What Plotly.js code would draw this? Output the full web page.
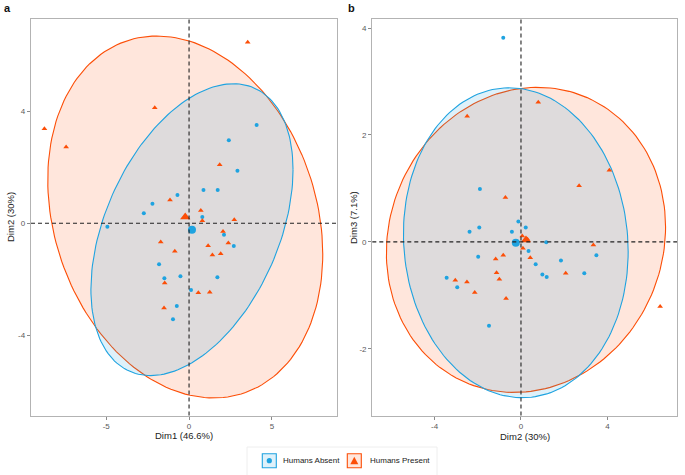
<!DOCTYPE html>
<html>
<head>
<meta charset="utf-8">
<script src="https://cdn.plot.ly/plotly-3.0.1.min.js"></script>
<style>html,body{margin:0;padding:0;background:#fff;}#chart{width:685px;height:475px;}</style>
</head>
<body>
<div id="chart"></div>
<script>
// ---------- DATA ----------
const groups = ["Humans Absent", "Humans Present"];

// Panel a: Dim1 vs Dim2
const absentDim1 = [4.08, 2.40, 2.92, 0.87, 1.73, -0.70, -2.21, -2.73, 0.80, -4.93, 2.11, 2.70, -1.81, -1.49, -0.52, 1.71, 0.12, -0.74, -0.97];
const absentDim2a = [3.50, 2.96, 1.87, 1.19, 1.19, 1.01, 0.70, 0.36, 0.22, -0.12, -0.41, -0.81, -1.46, -1.96, -1.89, -1.92, -2.38, -2.95, -3.42];
const presentDim1 = [3.54, -2.07, -8.73, -7.42, 1.85, -1.15, 0.71, 0.80, 2.73, -1.71, -0.86, 1.15, 1.41, 1.91, 2.37, 2.05, -1.47, 0.56, 1.25, -1.51];
const presentDim2a = [6.45, 4.12, 3.37, 2.72, 2.09, 0.83, 0.46, 0.09, 0.13, -0.67, -1.00, -0.80, -1.13, -1.09, -0.70, -0.29, -2.13, -2.48, -2.46, -3.02];

// Panel b: Dim2 vs Dim3
const absentDim2b = [-0.82, -1.90, -0.12, 0.22, -1.93, -2.38, -0.42, 1.17, 0.35, -1.98, 1.85, 0.68, 3.49, 0.99, 1.19, 2.93, -3.44, -2.95, -1.48];
const absentDim3 = [3.82, 0.99, 0.38, 0.27, 0.27, 0.19, 0.19, -0.01, -0.17, -0.28, -0.35, -0.42, -0.25, -0.61, -0.66, -0.59, -0.67, -0.85, -1.57];
const presentDim2b = [0.80, -2.49, 4.09, 2.69, -0.72, 0.06, 0.09, 0.43, -0.82, -1.17, -1.13, -1.00, -3.04, -2.50, -2.14, -0.69, 2.07, 3.35, 6.44, 0.30];
const presentDim3 = [2.61, 2.35, 1.34, 1.05, 0.83, 0.11, -0.12, -0.30, -0.25, -0.32, -0.58, -0.70, -0.72, -0.75, -0.95, -1.06, -0.59, -0.06, -1.21, 0.05];

// Ellipse extents: [half-width, half-height, covariance term]
const ellipseAbsentA = [6.1, 5.2, 13.0];
const ellipsePresentA = [8.3, 6.45, -11.0];
const ellipseAbsentB = [5.2, 2.9, -0.87];
const ellipsePresentB = [6.46, 2.855, 1.55];

// Axis ticks
const xTicksA = [-5, 0, 5];
const yTicksA = [-4, 0, 4];
const xTicksB = [-4, 0, 4];
const yTicksB = [-2, 0, 2, 4];
const axisTitles = ["Dim1 (46.6%)", "Dim2 (30%)", "Dim2 (30%)", "Dim3 (7.1%)"];
const panelLabels = ["a", "b"];

// ---------- STYLE ----------
const BLUE = "#1FA3E0";
const ORANGE = "#FC4E07";
const BLUE_FILL = "rgba(31,163,224,0.15)";
const ORANGE_FILL = "rgba(252,78,7,0.14)";
const W = 685, H = 475;
const px = v => v / W, py = v => 1 - v / H;

const mean = a => a.reduce((s, v) => s + v, 0) / a.length;

function ellipse(cx, cy, p) {
  const a = p[0], b = p[2] / p[0], c = Math.sqrt(p[1] * p[1] - b * b);
  const xs = [], ys = [];
  for (let i = 0; i <= 180; i++) {
    const t = 2 * Math.PI * i / 180;
    xs.push(cx + a * Math.cos(t));
    ys.push(cy + b * Math.cos(t) + c * Math.sin(t));
  }
  return {xs, ys};
}

function panelTraces(ax, ay, bx, by, eA, eB, xa, ya) {
  const cAx = mean(ax), cAy = mean(ay), cBx = mean(bx), cBy = mean(by);
  const eo = ellipse(cBx, cBy, eB), eb = ellipse(cAx, cAy, eA);
  const common = {xaxis: xa, yaxis: ya, showlegend: false, hoverinfo: "skip"};
  return [
    Object.assign({type: "scatter", mode: "lines", x: eo.xs, y: eo.ys, fill: "toself", fillcolor: ORANGE_FILL, line: {color: ORANGE, width: 1.1}}, common),
    Object.assign({type: "scatter", mode: "lines", x: eb.xs, y: eb.ys, fill: "toself", fillcolor: BLUE_FILL, line: {color: BLUE, width: 1.1}}, common),
    Object.assign({type: "scatter", mode: "markers", name: groups[0], x: ax, y: ay, marker: {symbol: "circle", size: 4, color: BLUE}}, common),
    Object.assign({type: "scatter", mode: "markers", name: groups[1], x: bx, y: by, marker: {symbol: "triangle-up", size: 5, color: ORANGE}}, common),
    Object.assign({type: "scatter", mode: "markers", x: [cAx], y: [cAy], marker: {symbol: "circle", size: 8, color: BLUE}}, common),
    Object.assign({type: "scatter", mode: "markers", x: [cBx], y: [cBy], marker: {symbol: "triangle-up", size: 9, color: ORANGE}}, common)
  ];
}

const data = [].concat(
  panelTraces(absentDim1, absentDim2a, presentDim1, presentDim2a, ellipseAbsentA, ellipsePresentA, "x", "y"),
  panelTraces(absentDim2b, absentDim3, presentDim2b, presentDim3, ellipseAbsentB, ellipsePresentB, "x2", "y2")
);

const tickFont = {family: "Liberation Sans, Arial, sans-serif", size: 8, color: "#5a5a5a"};
function axis(domain, range, ticks, anchor) {
  return {
    domain: domain, range: range, anchor: anchor,
    showgrid: false, zeroline: false,
    showline: true, mirror: true, linecolor: "#b3b3b3", linewidth: 1.2,
    ticks: "outside", ticklen: 3, tickcolor: "#8a8a8a", tickwidth: 1,
    tickvals: ticks, ticktext: ticks.map(String), tickfont: tickFont
  };
}

const yDom = [1 - 415.5 / H, 1 - 19 / H];
const layout = {
  width: W, height: H,
  margin: {l: 0, r: 0, t: 0, b: 0},
  paper_bgcolor: "#fff", plot_bgcolor: "#fff",
  showlegend: false,
  xaxis: axis([31 / W, 337 / W], [-9.54, 8.93], xTicksA, "y"),
  yaxis: axis(yDom, [-6.85, 7.28], yTicksA, "x"),
  xaxis2: axis([372.3 / W, 677 / W], [-6.88, 7.22], xTicksB, "y2"),
  yaxis2: axis(yDom, [-3.25, 4.17], yTicksB, "x2"),
  shapes: [],
  annotations: []
};

const dash = {color: "#222", width: 1.1, dash: "4px,3px"};
[["x", "y"], ["x2", "y2"]].forEach(([xr, yr]) => {
  layout.shapes.push({type: "line", xref: xr, yref: yr + " domain", x0: 0, x1: 0, y0: 0, y1: 1, line: dash, layer: "above"});
  layout.shapes.push({type: "line", xref: xr + " domain", yref: yr, x0: 0, x1: 1, y0: 0, y1: 0, line: dash, layer: "above"});
});

const titleFont = {family: "Liberation Sans, Arial, sans-serif", size: 9.5, color: "#222"};
function ann(text, x, y, extra) {
  layout.annotations.push(Object.assign({text: text, x: px(x), y: py(y), xref: "paper", yref: "paper", showarrow: false, font: titleFont, xanchor: "center", yanchor: "middle"}, extra || {}));
}
ann(axisTitles[0], 184, 435);
ann(axisTitles[1], 10, 217, {textangle: -90});
ann(axisTitles[2], 524.6, 436);
ann(axisTitles[3], 353, 217, {textangle: -90});
ann(panelLabels[0], 8, 8, {font: {family: "Liberation Sans, Arial, sans-serif", size: 11, color: "#111"}, text: "<b>a</b>"});
ann(panelLabels[1], 351, 8, {font: {family: "Liberation Sans, Arial, sans-serif", size: 11, color: "#111"}, text: "<b>b</b>"});

// Legend (drawn in paper space)
const legY = 460.7, ks = 7;
layout.shapes.push({type: "rect", xref: "paper", yref: "paper", x0: px(247), x1: px(437), y0: py(447), y1: py(476), line: {color: "#eeeeee", width: 1}, fillcolor: "rgba(0,0,0,0)"});
[[269.3, BLUE, BLUE_FILL], [354.3, ORANGE, ORANGE_FILL]].forEach(([cx, col, fc], i) => {
  layout.shapes.push({type: "rect", xref: "paper", yref: "paper", x0: px(cx - ks), x1: px(cx + ks), y0: py(legY + ks), y1: py(legY - ks), line: {color: col, width: 1.1}, fillcolor: fc});
  if (i === 0) {
    layout.shapes.push({type: "circle", xref: "paper", yref: "paper", x0: px(cx - 2.6), x1: px(cx + 2.6), y0: py(legY + 2.6), y1: py(legY - 2.6), line: {width: 0}, fillcolor: col});
  } else {
    layout.shapes.push({type: "path", xref: "paper", yref: "paper",
      path: "M " + px(cx - 4) + " " + py(legY + 3.5) + " L " + px(cx + 4) + " " + py(legY + 3.5) + " L " + px(cx) + " " + py(legY - 4) + " Z",
      line: {width: 0}, fillcolor: col});
  }
});
const legFont = {family: "Liberation Sans, Arial, sans-serif", size: 8, color: "#222"};
ann(groups[0], 280.5, legY, {xanchor: "left", font: legFont});
ann(groups[1], 368.3, legY, {xanchor: "left", font: legFont});

Plotly.newPlot("chart", data, layout, {displayModeBar: false, staticPlot: true});
</script>
</body>
</html>
